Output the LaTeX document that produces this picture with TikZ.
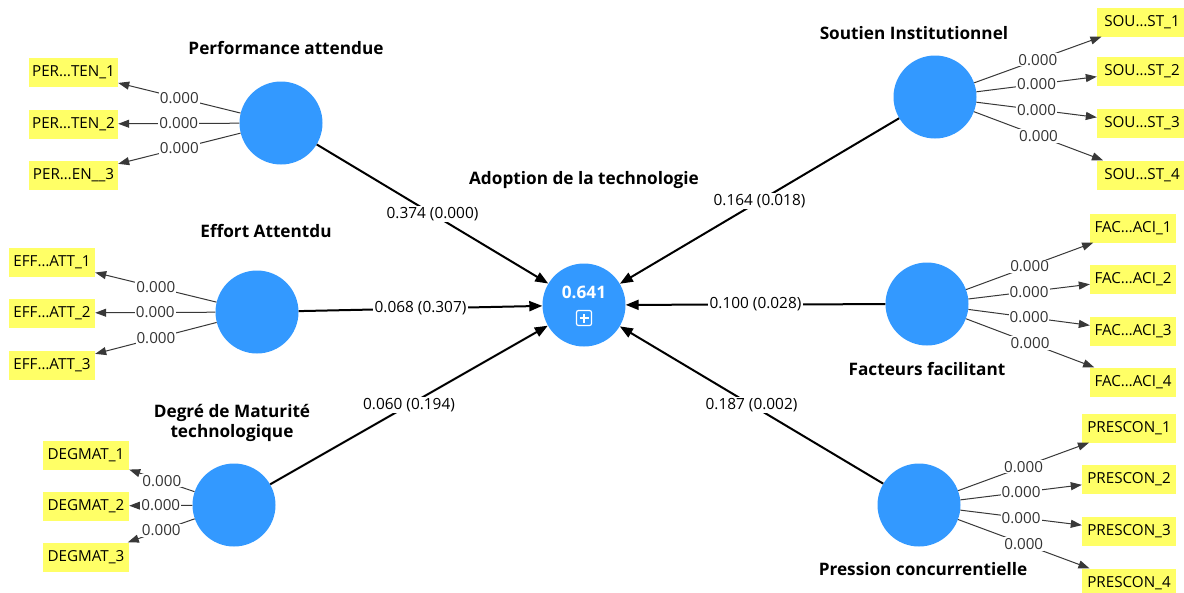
\documentclass[tikz,border=0pt]{standalone}
\usepackage{fontspec}
\setmainfont{Open Sans}
\usetikzlibrary{arrows.meta}
\definecolor{lvblue}{RGB}{51,153,255}
\definecolor{indyellow}{RGB}{255,255,102}
\begin{document}
\begin{tikzpicture}[x=1pt,y=-1pt,
  lvnode/.style={circle,fill=lvblue,minimum size=83pt,inner sep=0pt},
  indbox/.style={fill=indyellow,minimum height=29pt,inner xsep=1pt,inner ysep=0pt,font=\fontsize{15.2}{17}\selectfont},
  lvlabel/.style={font=\bfseries\fontsize{17.2}{20}\selectfont,align=center},
  pathline/.style={line width=2pt,-{Triangle[length=13pt,width=10pt]}},
  indline/.style={line width=1pt,draw=black!78,-{Triangle[length=11pt,width=8pt]}},
  coef/.style={fill=white,inner sep=1.5pt,font=\fontsize{15.4}{17}\selectfont},
  icoef/.style={fill=white,inner sep=1pt,text=black!80,font=\fontsize{15.2}{17}\selectfont}
]
\useasboundingbox[fill=white] (0,0) rectangle (1184,592);

% latent variables
\node[lvnode] (PA) at (281,123) {};
\node[lvnode] (EA) at (257,312) {};
\node[lvnode] (DM) at (234,505) {};
\node[lvnode] (AT) at (584,305) {};
\node[lvnode] (SI) at (935,97) {};
\node[lvnode] (FF) at (927,304) {};
\node[lvnode] (PC) at (919,505) {};

\node[font=\bfseries\fontsize{17.2}{19}\selectfont,text=white] (R2) at (584,292) {0.641};
\node[draw=white,line width=1.2pt,rounded corners=2pt,minimum size=15pt,inner sep=0pt] (EXP) at (584,318) {};
\draw[white,line width=1.2pt] ([xshift=-4.5pt]EXP.center) -- ([xshift=4.5pt]EXP.center);
\draw[white,line width=1.2pt] ([yshift=-4.5pt]EXP.center) -- ([yshift=4.5pt]EXP.center);

% LV labels
\node[lvlabel] (PAl) at (286,48) {Performance attendue};
\node[lvlabel] (EAl) at (266,231) {Effort Attentdu};
\node[lvlabel] (DMl) at (232,423) {Degré de Maturité\\technologique};
\node[lvlabel] (ATl) at (584,180) {Adoption de la technologie};
\node[lvlabel] (SIl) at (914,33) {Soutien Institutionnel};
\node[lvlabel] (FFl) at (927,369) {Facteurs facilitant};
\node[lvlabel] (PCl) at (923,569) {Pression concurrentielle};

% indicators
\node[indbox,minimum width=89pt] (PER1) at (73.5,72) {PER…TEN\_1};
\node[indbox,minimum width=89pt] (PER2) at (73.5,124) {PER…TEN\_2};
\node[indbox,minimum width=89pt] (PER3) at (73.5,175) {PER…EN\_\_3};
\node[indbox,minimum width=86pt] (EFF1) at (52,262) {EFF…ATT\_1};
\node[indbox,minimum width=86pt] (EFF2) at (52,313) {EFF…ATT\_2};
\node[indbox,minimum width=86pt] (EFF3) at (52,365) {EFF…ATT\_3};
\node[indbox,minimum width=86pt] (DEG1) at (86,455) {DEGMAT\_1};
\node[indbox,minimum width=86pt] (DEG2) at (86,506) {DEGMAT\_2};
\node[indbox,minimum width=86pt] (DEG3) at (86,557) {DEGMAT\_3};
\node[indbox,minimum width=90pt] (SOU1) at (1142,22) {SOU…ST\_1};
\node[indbox,minimum width=90pt] (SOU2) at (1142,71) {SOU…ST\_2};
\node[indbox,minimum width=90pt] (SOU3) at (1142,123) {SOU…ST\_3};
\node[indbox,minimum width=90pt] (SOU4) at (1142,175) {SOU…ST\_4};
\node[indbox,minimum width=86pt] (FAC1) at (1133,228) {FAC…ACI\_1};
\node[indbox,minimum width=86pt] (FAC2) at (1133,279) {FAC…ACI\_2};
\node[indbox,minimum width=86pt] (FAC3) at (1133,331) {FAC…ACI\_3};
\node[indbox,minimum width=86pt] (FAC4) at (1133,382) {FAC…ACI\_4};
\node[indbox,minimum width=94pt] (PRE1) at (1129,428) {PRESCON\_1};
\node[indbox,minimum width=94pt] (PRE2) at (1129,479) {PRESCON\_2};
\node[indbox,minimum width=94pt] (PRE3) at (1129,531) {PRESCON\_3};
\node[indbox,minimum width=94pt] (PRE4) at (1129,583) {PRESCON\_4};

% structural paths
\draw[pathline] (PA) -- node[coef] (c1) {0.374 (0.000)} (AT);
\draw[pathline] (EA) -- node[coef] (c2) {0.068 (0.307)} (AT);
\draw[pathline] (DM) -- node[coef] (c3) {0.060 (0.194)} (AT);
\draw[pathline] (SI) -- node[coef] (c4) {0.164 (0.018)} (AT);
\draw[pathline] (FF) -- node[coef] (c5) {0.100 (0.028)} (AT);
\draw[pathline] (PC) -- node[coef] (c6) {0.187 (0.002)} (AT);

% measurement paths
\foreach \lv/\ind in {PA/PER1,PA/PER2,PA/PER3,EA/EFF1,EA/EFF2,EA/EFF3,DM/DEG1,DM/DEG2,DM/DEG3,
  SI/SOU1,SI/SOU2,SI/SOU3,SI/SOU4,FF/FAC1,FF/FAC2,FF/FAC3,FF/FAC4,PC/PRE1,PC/PRE2,PC/PRE3,PC/PRE4}
  \draw[indline] (\lv) -- node[icoef] {0.000} (\ind);
\end{tikzpicture}
\end{document}
